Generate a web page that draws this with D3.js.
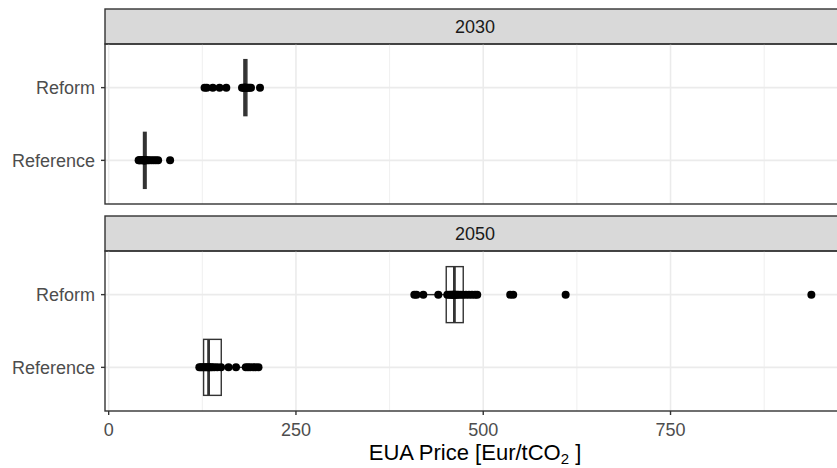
<!DOCTYPE html>
<html>
<head>
<meta charset="utf-8">
<script src="https://cdn.jsdelivr.net/npm/d3@7"></script>
<style>
  body { margin: 0; background: #fff; }
  text { font-family: "Liberation Sans", Arial, sans-serif; }
</style>
</head>
<body>
<div id="chart"></div>
<script>
// facets and categories
var years = ['2030', '2050']
var scenarios = ['Reform', 'Reference']
var xTicks = [0, 250, 500, 750]
var xMinor = [125, 375, 625, 875]

// scenario results (EUA price, Eur/tCO2)
var ref2030 = [40, 41, 42, 44, 45, 46, 47, 47, 48, 48, 48, 49, 50, 52, 54, 57, 60, 63, 66, 82]
var reform2030 = [128, 131, 139, 148, 157, 178, 180, 181, 182, 182, 183, 184, 186, 188, 190, 202]
var ref2050 = [121, 123, 125, 127, 129, 131, 133, 134, 136, 138, 141, 145, 150, 160, 170, 183, 186, 189, 193, 196, 200]
var reform2050 = [408, 411, 420, 440, 452, 455, 457, 459, 460, 461, 462, 463, 465, 467, 470, 473, 477, 481, 485, 489, 492, 536, 540, 610, 938]

// box stats per group: [whisker low, q1, median, q3, whisker high]
var boxRef2030 = [42, 46.5, 48, 50, 54]
var boxReform2030 = [178, 180.5, 182.5, 184.5, 188]
var boxRef2050 = [121, 126.7, 133.4, 150.3, 183]
var boxReform2050 = [420, 450.6, 461.5, 473.3, 492]

var groups = [
  { year: '2030', scenario: 'Reference', values: ref2030, box: boxRef2030 },
  { year: '2030', scenario: 'Reform', values: reform2030, box: boxReform2030 },
  { year: '2050', scenario: 'Reference', values: ref2050, box: boxRef2050 },
  { year: '2050', scenario: 'Reform', values: reform2050, box: boxReform2050 }
]

var W = 837, H = 468
var left = 105, right = 845
var stripH = 35, panelH = 160
var stripTops = [9, 216]

var svg = d3.select('#chart')
  .append('svg')
    .attr('width', W)
    .attr('height', H)

// x scale with ggplot style 5% expansion
var all = d3.merge(groups.map(g => g.values))
var ext = d3.extent(all)
var pad = (ext[1] - ext[0]) * 0.05
var x = d3.scaleLinear()
  .domain([ext[0] - pad, ext[1] + pad])
  .range([left, right])

var clip = svg.append('clipPath').attr('id', 'clip')
  .append('rect').attr('x', left).attr('y', 0).attr('width', right - left).attr('height', H)

years.forEach(function(yr, i) {
  var sTop = stripTops[i]
  var pTop = sTop + stripH
  var y = d3.scalePoint()
    .domain(scenarios)
    .range([pTop, pTop + panelH])
    .padding(0.6)
  var boxH = y.step() * 0.77

  var g = svg.append('g')

  // strip
  g.append('rect')
    .attr('x', left).attr('y', sTop)
    .attr('width', right - left).attr('height', stripH)
    .style('fill', '#D9D9D9')
    .style('stroke', '#333333')
    .style('stroke-width', 1.4)
  g.append('text')
    .attr('x', (left + right) / 2)
    .attr('y', sTop + stripH / 2 + 6.5)
    .attr('text-anchor', 'middle')
    .style('font-size', '18px')
    .style('fill', '#1A1A1A')
    .text(yr)

  // grid
  var grid = g.append('g').attr('clip-path', 'url(#clip)')
  grid.selectAll('.minor').data(xMinor).enter().append('line')
    .attr('x1', d => x(d)).attr('x2', d => x(d))
    .attr('y1', pTop).attr('y2', pTop + panelH)
    .style('stroke', '#EBEBEB').style('stroke-width', 0.8)
  grid.selectAll('.major').data(xTicks).enter().append('line')
    .attr('x1', d => x(d)).attr('x2', d => x(d))
    .attr('y1', pTop).attr('y2', pTop + panelH)
    .style('stroke', '#EBEBEB').style('stroke-width', 1.6)
  grid.selectAll('.hmajor').data(scenarios).enter().append('line')
    .attr('x1', left).attr('x2', right)
    .attr('y1', d => y(d)).attr('y2', d => y(d))
    .style('stroke', '#EBEBEB').style('stroke-width', 1.6)

  // boxplots
  var gs = groups.filter(d => d.year === yr)
  var bx = g.selectAll('.box').data(gs).enter().append('g')
  bx.append('line')
    .attr('x1', d => x(d.box[0])).attr('x2', d => x(d.box[1]))
    .attr('y1', d => y(d.scenario)).attr('y2', d => y(d.scenario))
    .style('stroke', '#333333').style('stroke-width', 1.4)
  bx.append('line')
    .attr('x1', d => x(d.box[3])).attr('x2', d => x(d.box[4]))
    .attr('y1', d => y(d.scenario)).attr('y2', d => y(d.scenario))
    .style('stroke', '#333333').style('stroke-width', 1.4)
  bx.append('rect')
    .attr('x', d => x(d.box[1]))
    .attr('width', d => Math.max(0.5, x(d.box[3]) - x(d.box[1])))
    .attr('y', d => y(d.scenario) - boxH / 2)
    .attr('height', boxH)
    .style('fill', 'white')
    .style('stroke', '#333333')
    .style('stroke-width', 1.4)
  bx.append('line')
    .attr('x1', d => x(d.box[2])).attr('x2', d => x(d.box[2]))
    .attr('y1', d => y(d.scenario) - boxH / 2).attr('y2', d => y(d.scenario) + boxH / 2)
    .style('stroke', '#333333').style('stroke-width', 2.8)

  // points
  gs.forEach(function(d) {
    g.selectAll(null).data(d.values).enter().append('circle')
      .attr('cx', v => x(v))
      .attr('cy', y(d.scenario))
      .attr('r', 4)
      .style('fill', 'black')
  })

  // panel border
  g.append('rect')
    .attr('x', left).attr('y', pTop)
    .attr('width', right - left).attr('height', panelH)
    .style('fill', 'none')
    .style('stroke', '#333333')
    .style('stroke-width', 1.4)

  // y axis
  g.selectAll('.ytick').data(scenarios).enter().append('line')
    .attr('x1', left - 4).attr('x2', left)
    .attr('y1', d => y(d)).attr('y2', d => y(d))
    .style('stroke', '#333333').style('stroke-width', 1.4)
  g.selectAll('.ylab').data(scenarios).enter().append('text')
    .attr('x', left - 10)
    .attr('y', d => y(d) + 6.5)
    .attr('text-anchor', 'end')
    .style('font-size', '18px')
    .style('fill', '#4D4D4D')
    .text(d => d)

  // x axis on the bottom panel
  if (i === years.length - 1) {
    var base = pTop + panelH
    g.selectAll('.xtick').data(xTicks).enter().append('line')
      .attr('x1', d => x(d)).attr('x2', d => x(d))
      .attr('y1', base).attr('y2', base + 4)
      .style('stroke', '#333333').style('stroke-width', 1.4)
    g.selectAll('.xlab').data(xTicks).enter().append('text')
      .attr('x', d => x(d))
      .attr('y', base + 25)
      .attr('text-anchor', 'middle')
      .style('font-size', '18px')
      .style('fill', '#4D4D4D')
      .text(d => d)
  }
})

// axis title
var title = svg.append('text')
  .attr('x', (left + right) / 2)
  .attr('y', 460)
  .attr('text-anchor', 'middle')
  .style('font-size', '22px')
  .style('fill', 'black')
title.append('tspan').text('EUA Price [Eur/tCO')
title.append('tspan').attr('dy', 4).style('font-size', '15px').text('2')
title.append('tspan').attr('dy', -4).text(' ]')
</script>
</body>
</html>
